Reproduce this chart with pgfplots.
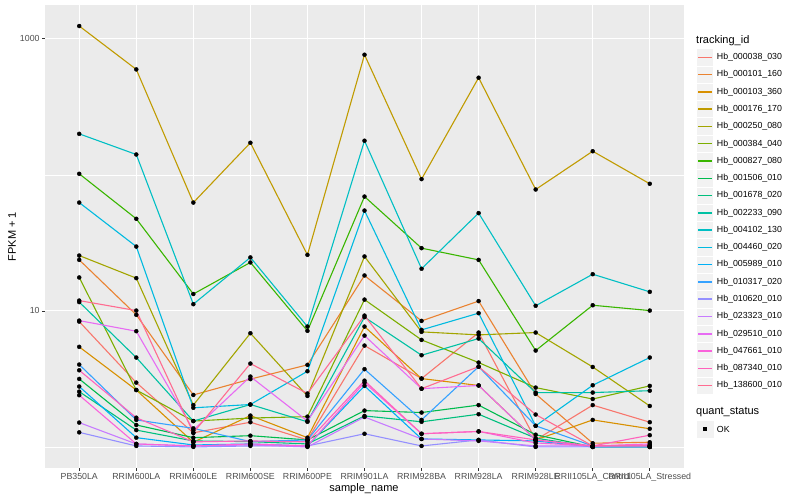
\documentclass[border=0pt]{standalone}
\usepackage{fontspec}
\setmainfont{Liberation Sans}
\usepackage{pgfplots}
\pgfplotsset{compat=1.18}
\usepackage{pgfplotstable}
\definecolor{c1}{HTML}{F8766D}
\definecolor{c2}{HTML}{EA8331}
\definecolor{c3}{HTML}{D89000}
\definecolor{c4}{HTML}{C09B00}
\definecolor{c5}{HTML}{A3A500}
\definecolor{c6}{HTML}{7CAE00}
\definecolor{c7}{HTML}{39B600}
\definecolor{c8}{HTML}{00BB4E}
\definecolor{c9}{HTML}{00BF7D}
\definecolor{c10}{HTML}{00C1A3}
\definecolor{c11}{HTML}{00BFC4}
\definecolor{c12}{HTML}{00BAE0}
\definecolor{c13}{HTML}{00B0F6}
\definecolor{c14}{HTML}{35A2FF}
\definecolor{c15}{HTML}{9590FF}
\definecolor{c16}{HTML}{C77CFF}
\definecolor{c17}{HTML}{E76BF3}
\definecolor{c18}{HTML}{FA62DB}
\definecolor{c19}{HTML}{FF62BC}
\definecolor{c20}{HTML}{FF6C91}
\definecolor{panel}{HTML}{EBEBEB}
\definecolor{keybg}{HTML}{F2F2F2}
\definecolor{gray30}{HTML}{4D4D4D}
\definecolor{gray20}{HTML}{333333}

\pgfplotstableread{
x s1 s2 s3 s4 s5 s6 s7 s8 s9 s10 s11 s12 s13 s14 s15 s16 s17 s18 s19 s20
0 8.34 23.7 5.44 1240 25.5 17.6 101.7 3.16 2.55 11.6 200 62.5 2.78 4.03 1.28 1.51 8.48 2.40 3.66 11.9
1 2.97 9.35 2.62 595 17.4 2.62 47.5 1.45 1.33 4.54 141 29.7 1.17 1.58 1.017 1.052 7.09 1.052 1.64 10.05
2 1.27 2.41 1.083 62.5 2.03 1.55 13.3 1.17 1.107 1.55 11.2 1.94 1.034 1.37 1.0 1.017 1.33 1.017 1.09 1.27
3 1.52 3.15 1.70 172 6.85 1.63 22.7 1.21 1.094 2.05 24.7 2.05 1.052 1.094 1.017 1.034 3.29 1.052 1.107 4.10
4 1.126 4.01 1.17 25.8 2.37 1.67 7.13 1.126 1.052 1.53 7.67 3.60 1.017 1.126 1.017 1.0 1.55 1.017 1.09 2.47
5 5.56 18.2 7.67 763 25.1 12.1 69.2 1.85 1.69 8.99 178 54.6 2.81 3.73 1.25 1.66 6.58 2.97 3.07 9.23
6 3.18 8.44 3.18 93 7.01 6.12 28.9 1.79 1.53 4.72 20.4 7.25 1.145 1.58 1.017 1.145 2.68 1.25 1.25 2.68
7 6.93 11.8 2.83 517 6.66 4.17 23.7 2.03 1.74 6.26 52.3 9.62 1.126 3.89 1.126 1.107 2.83 1.30 1.30 3.89
8 1.126 2.45 1.126 78 6.93 2.73 5.11 1.23 1.16 2.51 10.9 1.43 1.107 1.43 1.0 1.017 1.126 1.07 1.126 1.73
9 2.03 1.065 1.58 149 3.87 2.25 11.0 1.0 1.0 2.51 18.6 2.84 1.0 1.017 1.0 1.017 1.017 1.017 1.017 1.017
10 1.52 1.083 1.36 85.9 2.00 2.81 10.05 1.0 1.0 2.59 13.8 4.54 1.0 1.017 1.0 1.017 1.034 1.052 1.22 1.017
}\data

\begin{document}
\begin{tikzpicture}[x=1pt,y=1pt]
\path[use as bounding box] (-45,-32) rectangle (755,468);
\begin{axis}[
  at={(0,0)}, anchor=south west, scale only axis,
  width=639pt, height=463pt,
  xmin=-0.6, xmax=10.6,
  ymode=log, ymin=0.7003, ymax=1770,
  axis line style={draw=none},
  axis background/.style={fill=panel},
  tick align=outside, tick pos=left,
  major tick length=2.75pt, minor tick length=0pt,
  tick style={gray20, line width=0.6pt},
  xtick={0,...,10},
  xticklabels={PB350LA,RRIM600LA,RRIM600LE,RRIM600SE,RRIM600PE,RRIM901LA,RRIM928BA,RRIM928LA,RRIM928LE,RRII105LA\_Control,RRII105LA\_Stressed},
  ytick={10,1000}, yticklabels={10,1000},
  minor ytick={1,100},
  xmajorgrids, ymajorgrids, yminorgrids,
  major grid style={white, line width=1.07pt},
  minor grid style={white, line width=0.53pt},
  ticklabel style={font=\fontsize{8.8}{10}\selectfont, text=gray30},
  xticklabel style={inner sep=1pt, yshift=-1.5pt},
  yticklabel style={inner sep=1pt, xshift=-1.5pt},
]
\pgfplotsinvokeforeach{1,...,20}{
  \addplot[color=c#1, line width=1.1pt, mark=none] table[x=x, y=s#1]{\data};
}
\pgfplotsinvokeforeach{1,...,20}{
  \addplot[only marks, mark=*, mark size=2pt, black] table[x=x, y=s#1]{\data};
}
\end{axis}
% axis titles
\node[font=\fontsize{11}{13}\selectfont] at (319,-21) {sample\_name};
\node[font=\fontsize{11}{13}\selectfont, rotate=90] at (-33,231.5) {FPKM + 1};
% legend
\node[anchor=west, font=\fontsize{11}{13}\selectfont, inner sep=0] at (651,427.3) {tracking\_id};
\foreach \n [count=\k] in {Hb\_000038\_030,Hb\_000101\_160,Hb\_000103\_360,Hb\_000176\_170,Hb\_000250\_080,Hb\_000384\_040,Hb\_000827\_080,Hb\_001506\_010,Hb\_001678\_020,Hb\_002233\_090,Hb\_004102\_130,Hb\_004460\_020,Hb\_005989\_010,Hb\_010317\_020,Hb\_010620\_010,Hb\_023323\_010,Hb\_029510\_010,Hb\_047661\_010,Hb\_087340\_010,Hb\_138600\_010}{
  \pgfmathsetmacro\yc{468-(57.3+17.28*(\k-1))}
  \fill[keybg] (651.5,\yc-8.64) rectangle ++(17.28,17.28);
  \draw[white, line width=0.6pt] (651.5,\yc-8.64) rectangle ++(17.28,17.28);
  \draw[color=c\k, line width=1.5pt] (653.2,\yc) -- (667.1,\yc);
  \node[anchor=west, font=\fontsize{8.8}{10}\selectfont, inner sep=0] at (671.7,\yc) {\n};
}
\node[anchor=west, font=\fontsize{11}{13}\selectfont, inner sep=0] at (651,55.7) {quant\_status};
\fill[keybg] (651.5,38.7-8.64) rectangle ++(17.28,17.28);
\fill[black] (658.2,36.7) rectangle ++(4,4);
\node[anchor=west, font=\fontsize{8.8}{10}\selectfont, inner sep=0] at (671.7,38.7) {OK};
\end{tikzpicture}
\end{document}
